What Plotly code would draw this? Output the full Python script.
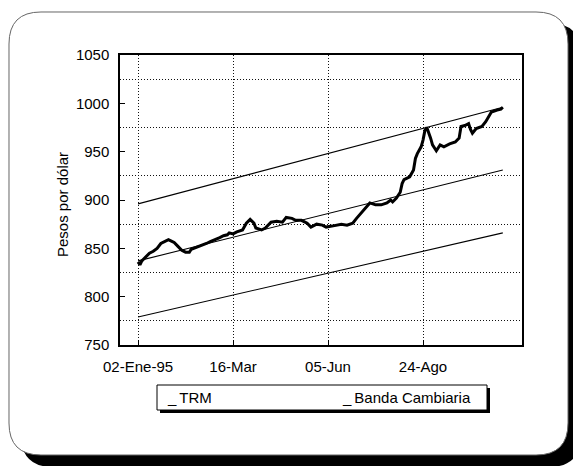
import plotly.graph_objects as go

# ---------------- data ----------------
tick_pos = [0, 50, 100, 150]
tick_labels = ["02-Ene-95", "16-Mar", "05-Jun", "24-Ago"]
y_ticks = [750, 800, 850, 900, 950, 1000, 1050]
y_grid = [775, 825, 875, 925, 975, 1025]

trm_day = [0, 1, 2, 4, 6, 8, 10, 12, 14, 16, 17, 19, 21, 23, 25, 27, 28, 31, 33, 36,
           38, 41, 43, 45, 47, 48, 50, 52, 55, 57, 59, 61, 62, 65, 67, 70, 73, 76, 78, 81,
           83, 86, 89, 91, 94, 97, 99, 102, 104, 107, 110, 113, 115, 118, 120, 122, 125, 128, 131, 133,
           134, 136, 138, 139, 140, 143, 145, 146, 147, 149, 150, 151, 152, 153, 154, 155, 157, 159, 161, 164,
           167, 169, 170, 172, 174, 175, 176, 178, 181, 183, 184, 186, 189, 191, 192]
trm_value = [836, 833, 837, 841, 845, 847, 850, 855, 857, 859, 858, 856, 852, 848, 846, 846, 849, 851, 853, 855,
             857, 859, 861, 863, 864, 866, 865, 867, 869, 876, 880, 876, 871, 869, 871, 877, 878, 877, 882, 881,
             879, 879, 876, 872, 875, 874, 872, 873, 874, 875, 874, 876, 881, 888, 893, 897, 895, 895, 897, 900,
             898, 902, 908, 917, 921, 924, 931, 943, 948, 955, 962, 972, 975, 970, 964, 957, 951, 957, 955, 958,
             960, 964, 976, 977, 979, 973, 969, 974, 976, 981, 984, 991, 993, 994, 996]

band_day = [0, 192]
band_upper = [896, 996]
band_center = [837, 931]
band_lower = [779, 866]

legend_labels = ["TRM", "Banda Cambiaria"]

# ---------------- layout helpers (page pixel -> paper) ----------------
OFF = 8                      # page body margin
W, H = 581 - OFF, 466 - OFF
PL, PR, PT, PB = 120, 522, 55, 345   # plot area in page pixels


def px(X):
    return (X - PL) / (PR - PL)


def py(Y):
    return (PB - Y) / (PB - PT)


def rrect(x0, y0, x1, y1, r):
    pts = [("M", [(x0 + r, y0)]), ("L", [(x1 - r, y0)]), ("Q", [(x1, y0), (x1, y0 + r)]),
           ("L", [(x1, y1 - r)]), ("Q", [(x1, y1), (x1 - r, y1)]), ("L", [(x0 + r, y1)]),
           ("Q", [(x0, y1), (x0, y1 - r)]), ("L", [(x0, y0 + r)]), ("Q", [(x0, y0), (x0 + r, y0)])]
    s = ""
    for cmd, ps in pts:
        s += cmd + " " + " ".join(f"{px(a):.5f},{py(b):.5f}" for a, b in ps) + " "
    return s + "Z"


FONT = "Liberation Sans, Arial, sans-serif"

fig = go.Figure()

for yb in (band_upper, band_center, band_lower):
    fig.add_trace(go.Scatter(x=band_day, y=yb, mode="lines",
                             line=dict(color="black", width=1.1),
                             name=legend_labels[1], showlegend=False, hoverinfo="skip"))

fig.add_trace(go.Scatter(x=trm_day, y=trm_value, mode="lines",
                         line=dict(color="black", width=3),
                         name=legend_labels[0], showlegend=False))

shapes = [
    # frame shadow + frame
    dict(type="path", xref="paper", yref="paper", layer="below",
         path=rrect(21, 23, 581, 467, 32), fillcolor="black", line=dict(width=0)),
    dict(type="path", xref="paper", yref="paper", layer="below",
         path=rrect(9, 12, 568, 455, 32), fillcolor="white", line=dict(color="#666", width=1)),
    # legend box shadow + box
    dict(type="rect", xref="paper", yref="paper", layer="above",
         x0=px(160), x1=px(490), y0=py(388), y1=py(413), fillcolor="black", line=dict(width=0)),
    dict(type="rect", xref="paper", yref="paper", layer="above",
         x0=px(157), x1=px(487), y0=py(385), y1=py(410), fillcolor="white",
         line=dict(color="black", width=1)),
]

annotations = [
    dict(text="Pesos por dólar", xref="paper", yref="paper", x=px(62), y=py(204),
         xanchor="center", yanchor="middle",
         textangle=-90, showarrow=False, font=dict(family=FONT, size=15, color="black")),
    dict(text="_\u2009" + legend_labels[0], xref="paper", yref="paper", x=px(165), y=py(397),
         xanchor="left", yanchor="middle", showarrow=False,
         font=dict(family=FONT, size=15, color="black")),
    dict(text="_\u2009" + legend_labels[1], xref="paper", yref="paper", x=px(340), y=py(397),
         xanchor="left", yanchor="middle", showarrow=False,
         font=dict(family=FONT, size=15, color="black")),
]

fig.update_layout(
    width=W, height=H,
    margin=dict(l=PL - OFF, r=W - (PR - OFF), t=PT - OFF, b=H - (PB - OFF), pad=0),
    paper_bgcolor="white", plot_bgcolor="rgba(0,0,0,0)",
    showlegend=False,
    font=dict(family=FONT, size=15, color="black"),
    shapes=shapes, annotations=annotations,
    xaxis=dict(range=[-9.5, 202.1], tickmode="array", tickvals=tick_pos, ticktext=tick_labels,
               showgrid=True, gridcolor="#111", gridwidth=1, griddash="1px,2px",
               ticks="inside", ticklen=5, tickcolor="black",
               showline=True, linecolor="black", linewidth=1.5, mirror=True,
               zeroline=False, ticklabelstandoff=7,
               tickfont=dict(family=FONT, size=15, color="black")),
    yaxis=dict(range=[750, 1050], tickmode="array", tickvals=y_ticks,
               showgrid=False, ticks="inside", ticklen=5, tickcolor="black",
               showline=True, linecolor="black", linewidth=1.5, mirror=True,
               zeroline=False, ticklabelstandoff=6,
               minor=dict(tickmode="array", tickvals=y_grid, showgrid=True,
                          gridcolor="#111", gridwidth=1, griddash="1px,2px"),
               tickfont=dict(family=FONT, size=15, color="black")),
)

fig.write_html("out.html")
